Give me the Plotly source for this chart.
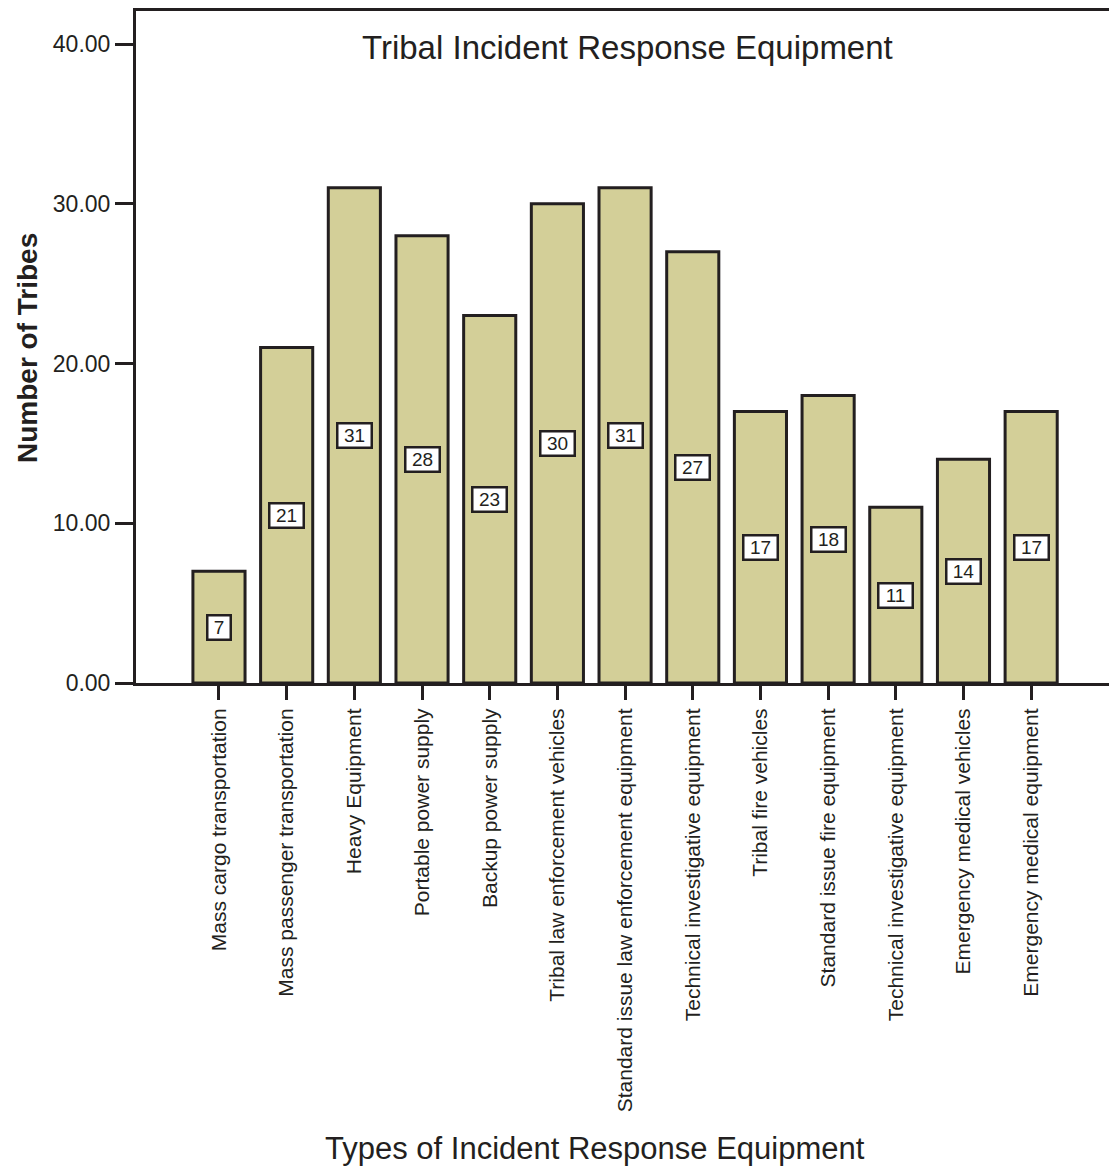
import plotly.graph_objects as go

categories = [
    "Mass cargo transportation",
    "Mass passenger transportation",
    "Heavy Equipment",
    "Portable power supply",
    "Backup power supply",
    "Tribal law enforcement vehicles",
    "Standard issue law enforcement equipment",
    "Technical investigative equipment",
    "Tribal fire vehicles",
    "Standard issue fire equipment",
    "Technical investigative equipment ",
    "Emergency medical vehicles",
    "Emergency medical equipment",
]
tribes = [7, 21, 31, 28, 23, 30, 31, 27, 17, 18, 11, 14, 17]
y_ticks = [0, 10, 20, 30, 40]

FONT = "Arial, Liberation Sans, sans-serif"
INK = "#231f20"
W, H = 1109, 1168
L, R, T, B = 136, 0, 11, 485
PW = W - L - R
PH = H - T - B

fig = go.Figure()
fig.add_trace(go.Bar(
    x=list(range(len(categories))),
    y=tribes,
    width=0.77,
    marker=dict(color="#d3cf98", line=dict(color=INK, width=3)),
    hoverinfo="skip",
))

# boxed count labels at mid-height of each bar
for i, v in enumerate(tribes):
    txt = str(v)
    fig.add_annotation(
        x=i, y=v / 2, text=txt, showarrow=False,
        font=dict(family=FONT, size=19, color=INK),
        bgcolor="white", bordercolor=INK, borderwidth=2.5, borderpad=1,
        width=11 * len(txt) + 8, height=20,
    )

# chart title inside the frame
fig.add_annotation(
    x=(627 - L) / PW, xref="paper", y=(H - B - 47) / PH, yref="paper",
    text="Tribal Incident Response Equipment", showarrow=False,
    font=dict(family=FONT, size=33, color=INK), xanchor="center", yanchor="middle",
)
# y-axis title
fig.add_annotation(
    x=(27 - L) / PW, xref="paper", y=(H - B - 348) / PH, yref="paper",
    text="<b>Number of Tribes</b>", showarrow=False, textangle=-90,
    font=dict(family=FONT, size=28, color=INK), xanchor="center", yanchor="middle",
)
# x-axis title
fig.add_annotation(
    x=(595 - L) / PW, xref="paper", y=(H - B - 1148) / PH, yref="paper",
    text="Types of Incident Response Equipment", showarrow=False,
    font=dict(family=FONT, size=31, color=INK), xanchor="center", yanchor="middle",
)

fig.update_layout(
    width=W, height=H,
    margin=dict(l=L, r=R, t=T, b=B),
    plot_bgcolor="white", paper_bgcolor="white",
    showlegend=False,
    font=dict(family=FONT, color=INK),
    xaxis=dict(
        range=[-1.226, 13.15],
        tickmode="array",
        tickvals=list(range(len(categories))),
        ticktext=[c.strip() for c in categories],
        tickangle=-90,
        tickfont=dict(family=FONT, size=21, color=INK),
        ticks="outside", ticklen=14, tickwidth=2.5, tickcolor=INK,
        showline=True, linecolor=INK, linewidth=3, mirror=True,
        showgrid=False, zeroline=False,
        automargin=False,
    ),
    yaxis=dict(
        range=[0, 42.07],
        tickmode="array", tickvals=y_ticks, ticktext=[f"{t:.2f}" for t in y_ticks],
        tickfont=dict(family=FONT, size=23, color=INK),
        ticks="outside", ticklen=18, tickwidth=2.5, tickcolor=INK,
        showline=True, linecolor=INK, linewidth=3,
        showgrid=False, zeroline=False,
        automargin=False,
    ),
)

fig.write_html("out.html")
